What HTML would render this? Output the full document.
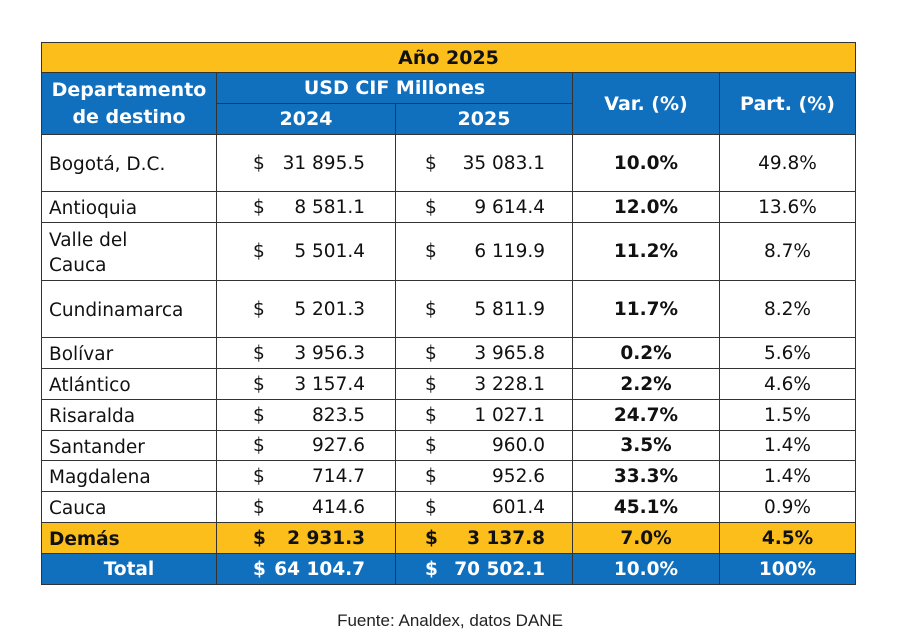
<!DOCTYPE html>
<html><head><meta charset="utf-8">
<style>
body{margin:0;width:900px;height:643px;background:#fff;position:relative;overflow:hidden;font-family:"DejaVu Sans","Liberation Sans",sans-serif;}
.c{position:absolute;box-sizing:border-box;border:1px solid #333;display:flex;align-items:center;font-size:18.5px;color:#111;}
.ctr{justify-content:center;text-align:center}
.b{font-weight:bold}
.y{background:#FBBE1A}
.bl{background:#1170BE;color:#fff}
.d{position:absolute;left:0;top:0;bottom:0;display:flex;align-items:center}
.v{position:absolute;top:0;bottom:0;display:flex;align-items:center}
#foot{position:absolute;left:0;width:900px;top:611px;text-align:center;font-size:17px;font-family:"Liberation Sans",sans-serif;color:#222}
</style></head><body>
<div id="tbl"></div>
<div id="foot">Fuente: Analdex, datos DANE</div>
<script>
const depts=["Bogotá, D.C.","Antioquia","Valle del<br>Cauca","Cundinamarca","Bolívar","Atlántico","Risaralda","Santander","Magdalena","Cauca","Demás","Total"];
const v2024=["31 895.5","8 581.1","5 501.4","5 201.3","3 956.3","3 157.4","823.5","927.6","714.7","414.6","2 931.3","64 104.7"];
const v2025=["35 083.1","9 614.4","6 119.9","5 811.9","3 965.8","3 228.1","1 027.1","960.0","952.6","601.4","3 137.8","70 502.1"];
const varp=["10.0%","12.0%","11.2%","11.7%","0.2%","2.2%","24.7%","3.5%","33.3%","45.1%","7.0%","10.0%"];
const part=["49.8%","13.6%","8.7%","8.2%","5.6%","4.6%","1.5%","1.4%","1.4%","0.9%","4.5%","100%"];
const X=[41,216,395,572,719,855];
const Y=[134,191,222,280,337,368,399,430,460,491,522,553,584];
const T=document.getElementById('tbl');
function cell(x,y,w,h,cls,html){const e=document.createElement('div');e.className='c '+cls;e.style.left=x+'px';e.style.top=y+'px';e.style.width=(w+1)+'px';e.style.height=(h+1)+'px';e.innerHTML=html;T.appendChild(e);return e;}
let e;
e=cell(41,42,814,30,'y ctr b','Año 2025');e.style.fontSize='19px';


e=cell(41,72,175,62,'bl ctr b','Departamento<br>de destino');e.style.lineHeight='27px';e.style.fontSize='19px';


e=cell(216,72,356,31,'bl ctr b','USD CIF Millones');e.style.fontSize='19px';


e=cell(216,103,179,31,'bl ctr b','2024');e.style.fontSize='19px';


e=cell(395,103,177,31,'bl ctr b','2025');e.style.fontSize='19px';


e=cell(572,72,147,62,'bl ctr b','Var. (%)');e.style.fontSize='19px';


e=cell(719,72,136,62,'bl ctr b','Part. (%)');e.style.fontSize='19px';


for(let i=0;i<depts.length;i++){
 const y=Y[i],h=Y[i+1]-Y[i];
 const bg=i==10?'y b ':(i==11?'bl b ':'');
 e=cell(X[0],y,X[1]-X[0],h,bg+(i==11?'ctr':''),i==11?depts[i]:'<span style="padding-left:7px;line-height:25px;padding-top:3px">'+depts[i]+'</span>');
 
 
 e=cell(X[1],y,X[2]-X[1],h,bg,'<span class="d" style="left:36px">$</span><span class="v" style="right:30px">'+v2024[i]+'</span>');
 
 
 e=cell(X[2],y,X[3]-X[2],h,bg,'<span class="d" style="left:29px">$</span><span class="v" style="right:27px">'+v2025[i]+'</span>');
 
 
 e=cell(X[3],y,X[4]-X[3],h,bg+'ctr b',varp[i]);
 
 
 e=cell(X[4],y,X[5]-X[4],h,bg+'ctr',part[i]);
 
 
}
</script>
</body></html>
